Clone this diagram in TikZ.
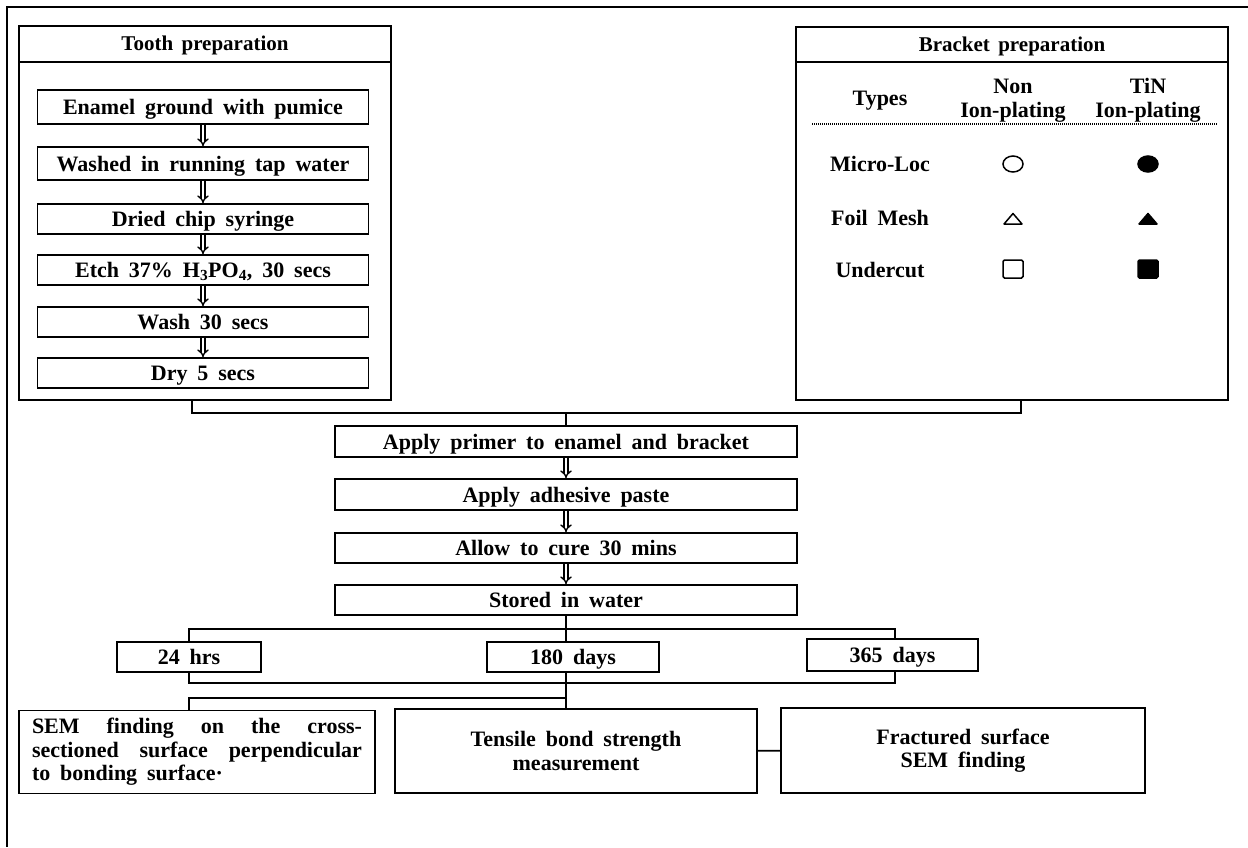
\documentclass[tikz,border=0pt]{standalone}
\usepackage{fontspec}
\setmainfont{Liberation Serif}
\usetikzlibrary{arrows.meta}
\newcommand\boxfont{\fontsize{22}{23.5}\selectfont\bfseries\spaceskip=0.45em plus 0.1em\relax}
\newcommand\headfont{\fontsize{21}{23}\selectfont\bfseries\spaceskip=0.4em plus 0.1em\relax}
\tikzset{
  frame/.style={draw, line width=1.6pt, inner sep=0pt},
  stepbox/.style={draw, line width=1.6pt, inner sep=0pt, text height=16pt, text depth=1pt, font=\boxfont},
  textbox/.style={draw, line width=1.6pt, inner sep=0pt, align=center, font=\boxfont},
  cell/.style={inner sep=0pt, align=center, font=\boxfont},
  link/.style={line width=1.6pt},
  darrow/.style={double, double distance=2.4pt, line width=1.4pt, -{Implies}},
  mkopen/.style={line width=1.5pt},
  mkfill/.style={line width=1.5pt, fill=black}
}
\begin{document}
\begin{tikzpicture}[x=1pt, y=-1pt]
\useasboundingbox (0,0) rectangle (1248,847);
% page frame
\draw[line width=1.1pt] (1248,7) -- (7,7) -- (7,847);

% tooth preparation
\node[frame, minimum width=372pt, minimum height=374pt] (toothbox) at (205,213) {};
\node[frame, minimum width=372pt, minimum height=36pt, text height=14pt, text depth=1pt, font=\headfont] (toothhead) at (205,44) {Tooth preparation};
\node[stepbox, minimum width=331pt, minimum height=34pt] (s1) at (203,107) {Enamel ground with pumice};
\node[stepbox, minimum width=331pt, minimum height=33pt] (s2) at (203,163.5) {Washed in running tap water};
\node[stepbox, minimum width=331pt, minimum height=30pt] (s3) at (203,219) {Dried chip syringe};
\node[stepbox, minimum width=331pt, minimum height=30pt] (s4) at (203,270) {Etch 37\% H\textsubscript{3}PO\textsubscript{4}, 30 secs};
\node[stepbox, minimum width=331pt, minimum height=30pt] (s5) at (203,322) {Wash 30 secs};
\node[stepbox, minimum width=331pt, minimum height=30pt] (s6) at (203,373) {Dry 5 secs};
\foreach \a/\b in {s1/s2,s2/s3,s3/s4,s4/s5,s5/s6}
  \draw[darrow] (\a) -- (\b);

% bracket preparation
\node[frame, minimum width=432pt, minimum height=373pt] (brackbox) at (1012,213.5) {};
\node[frame, minimum width=432pt, minimum height=35pt, text height=14pt, text depth=1pt, font=\headfont] (brackhead) at (1012,44.5) {Bracket preparation};
\node[cell] (types) at (880,101) {Types};
\node[cell] (nonion) at (1013,100.5) {Non\\Ion-plating};
\node[cell] (tinion) at (1148,100.5) {TiN\\Ion-plating};
\draw[line width=1.2pt, dash pattern=on 1pt off 1pt] (812,124) -- (1217,124);
\node[cell] (microloc) at (880,164) {Micro-Loc};
\node[cell] (foilmesh) at (880,218) {Foil Mesh};
\node[cell] (undercut) at (880,270) {Undercut};
\foreach \x/\st in {1013/mkopen,1148/mkfill} {
  \draw[\st] (\x,164) ellipse (10pt and 8pt);
  \draw[\st, line join=round] (\x-9,224) -- (\x,213.5) -- (\x+9,224) -- cycle;
  \draw[\st, rounded corners=1.5pt] (\x-10,260) rectangle (\x+10,278);
}

% common steps
\node[stepbox, minimum width=462pt, minimum height=31pt] (primer) at (566,441.5) {Apply primer to enamel and bracket};
\node[stepbox, minimum width=462pt, minimum height=31pt] (adhesive) at (566,494.5) {Apply adhesive paste};
\node[stepbox, minimum width=462pt, minimum height=30pt] (cure) at (566,548) {Allow to cure 30 mins};
\node[stepbox, minimum width=462pt, minimum height=30pt] (stored) at (566,600) {Stored in water};
\coordinate (topjoin) at (566,413);
\draw[link] ([xshift=-13pt]toothbox.south) |- (topjoin) -| ([xshift=9pt]brackbox.south);
\draw[link] (topjoin) -- (primer);
\foreach \a/\b in {primer/adhesive,adhesive/cure,cure/stored}
  \draw[darrow] (\a) -- (\b);

% storage times
\node[stepbox, minimum width=144pt, minimum height=30pt] (t24) at (189,657) {24 hrs};
\node[stepbox, minimum width=172pt, minimum height=30pt] (t180) at (573,657) {180 days};
\node[stepbox, minimum width=171pt, minimum height=32pt] (t365) at (892.5,655) {365 days};
\coordinate (tsplit) at (566,629);
\coordinate (tjoin) at (566,683);
\draw[link] (stored) -- (tsplit);
\draw[link] (t24.north) |- (tsplit) -| ([xshift=2.5pt]t365.north);
\draw[link] (tsplit) -- (tsplit |- t180.north);
\draw[link] (t24.south) |- (tjoin) -| ([xshift=2.5pt]t365.south);

% results
\node[textbox, minimum width=356pt, minimum height=83pt, text width=330pt, align=justify] (sem) at (197,752) {SEM finding on the cross-\linebreak sectioned surface perpendicular\linebreak to bonding surface·};
\node[textbox, minimum width=362pt, minimum height=84pt] (tens) at (576,751) {Tensile bond strength\\measurement};
\node[textbox, minimum width=364pt, minimum height=85pt] (frac) at (963,750.5) {Fractured surface\\SEM finding};
\coordinate (rsplit) at (566,698);
\draw[link] (tjoin |- t180.south) -- (tjoin |- tens.north);
\draw[link] (rsplit) -| ([xshift=-8pt]sem.north);
\draw[link] (tens) -- (frac);
\end{tikzpicture}
\end{document}
